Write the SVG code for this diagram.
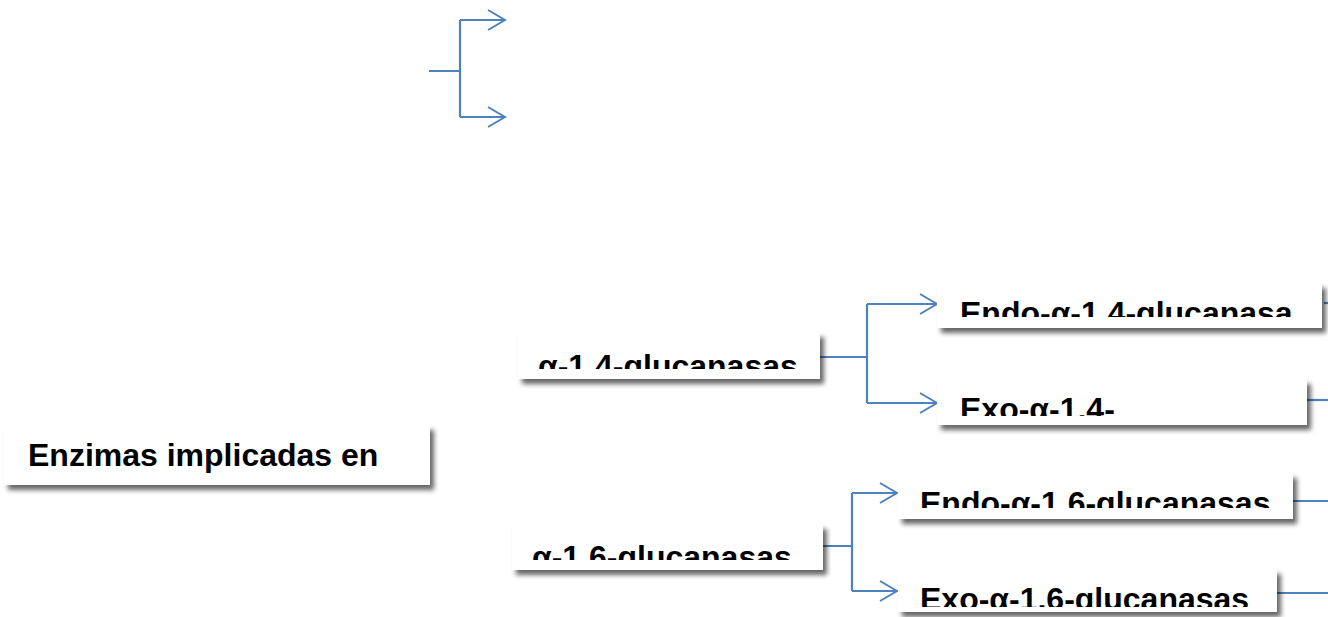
<svg xmlns="http://www.w3.org/2000/svg" width="1328" height="617" viewBox="0 0 1328 617">
  <defs>
    <filter id="shadow" x="-10%" y="-30%" width="125%" height="170%">
      <feGaussianBlur in="SourceAlpha" stdDeviation="2.5"/>
      <feOffset dx="4" dy="5" result="b"/>
      <feComponentTransfer><feFuncA type="linear" slope="0.6"/></feComponentTransfer>
      <feMerge><feMergeNode/><feMergeNode in="SourceGraphic"/></feMerge>
    </filter>
    <marker id="chev" markerWidth="20" markerHeight="22" refX="18" refY="11" orient="auto" markerUnits="userSpaceOnUse">
      <path d="M1,1 L18,11 L1,21" fill="none" stroke="#4F81BD" stroke-width="2"/>
    </marker>
    <clipPath id="c-root"><rect x="4" y="425" width="426" height="60"/></clipPath>
    <clipPath id="c-a14"><rect x="518" y="332" width="302" height="37"/></clipPath>
    <clipPath id="c-endo14"><rect x="937" y="283" width="385" height="34"/></clipPath>
    <clipPath id="c-exo14"><rect x="937" y="379" width="370" height="37"/></clipPath>
    <clipPath id="c-a16"><rect x="512" y="524" width="311" height="36"/></clipPath>
    <clipPath id="c-endo16"><rect x="898" y="473" width="395" height="35"/></clipPath>
    <clipPath id="c-exo16"><rect x="898" y="569" width="379" height="38"/></clipPath>
  </defs>
  <style>
    .box { fill: #ffffff; filter: url(#shadow); }
    .lbl { font-family: "Liberation Sans", Arial, sans-serif; font-weight: bold; font-size: 32px; fill: #000000; }
    .wire { fill: none; stroke: #4F81BD; stroke-width: 2.2; }
    .arrow { fill: none; stroke: #4F81BD; stroke-width: 2.2; marker-end: url(#chev); }
  </style>

  <!-- connectors -->
  <g id="connectors">
    <path class="wire" d="M429,71 H460 M460,20 V117"/>
    <path class="arrow" d="M460,20 H505"/>
    <path class="arrow" d="M460,117 H505"/>

    <path class="wire" d="M820,357 H867 M867,304 V403"/>
    <path class="arrow" d="M867,304 H937"/>
    <path class="arrow" d="M867,403 H937"/>

    <path class="wire" d="M823,546 H852 M852,493 V591"/>
    <path class="arrow" d="M852,493 H897"/>
    <path class="arrow" d="M852,591 H897"/>

    <path class="wire" d="M1324,303 H1328"/>
    <path class="wire" d="M1307,400 H1328"/>
    <path class="wire" d="M1293,501 H1328"/>
    <path class="wire" d="M1277,593 H1328"/>
  </g>

  <!-- nodes -->
  <g id="root">
    <rect class="box" x="4" y="425" width="426" height="60"/>
    <text class="lbl" x="28" y="466" clip-path="url(#c-root)">Enzimas implicadas en</text>
  </g>
  <g id="alpha14">
    <rect class="box" x="518" y="332" width="302" height="47"/>
    <text class="lbl" x="538" y="377" clip-path="url(#c-a14)">α-1,4-glucanasas</text>
  </g>
  <g id="endo14">
    <rect class="box" x="937" y="283" width="385" height="45"/>
    <text class="lbl" x="960" y="324" clip-path="url(#c-endo14)">Endo-α-1,4-glucanasa</text>
  </g>
  <g id="exo14">
    <rect class="box" x="937" y="379" width="370" height="46"/>
    <text class="lbl" x="960" y="420" clip-path="url(#c-exo14)">Exo-α-1,4-</text>
  </g>
  <g id="alpha16">
    <rect class="box" x="512" y="524" width="311" height="46"/>
    <text class="lbl" x="532" y="568" clip-path="url(#c-a16)">α-1,6-glucanasas</text>
  </g>
  <g id="endo16">
    <rect class="box" x="898" y="473" width="395" height="46"/>
    <text class="lbl" x="920" y="514" clip-path="url(#c-endo16)">Endo-α-1,6-glucanasas</text>
  </g>
  <g id="exo16">
    <rect class="box" x="898" y="569" width="379" height="43"/>
    <text class="lbl" x="920" y="610" clip-path="url(#c-exo16)">Exo-α-1,6-glucanasas</text>
  </g>
</svg>
